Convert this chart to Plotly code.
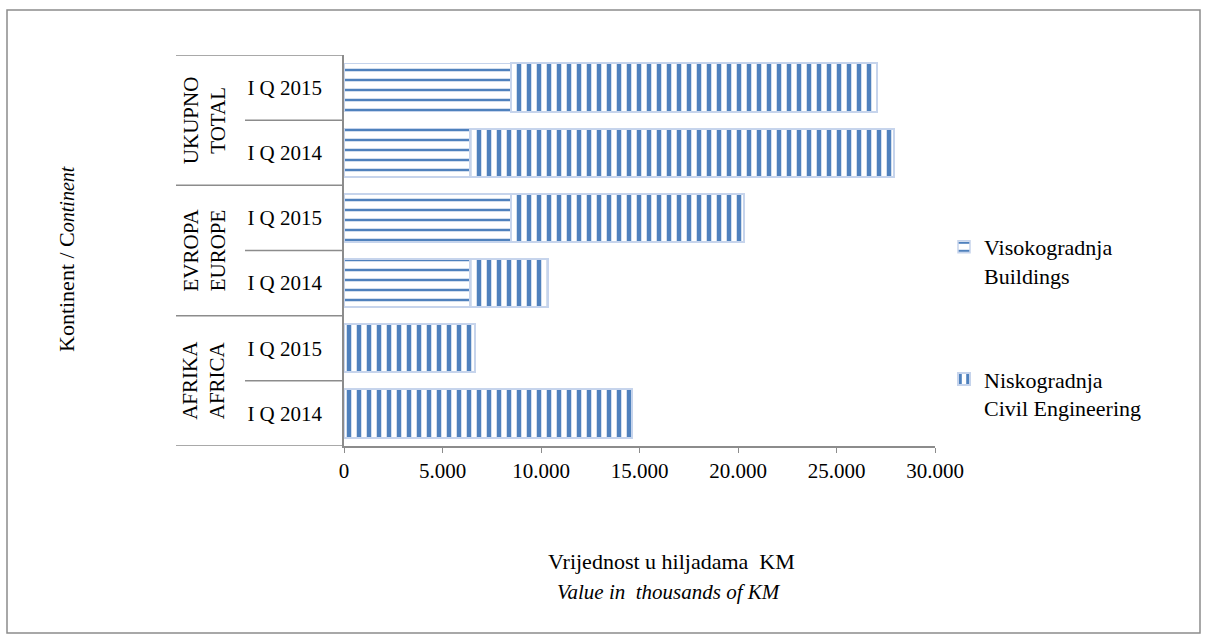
import plotly.graph_objects as go

# ---- data ----
groups = ["AFRIKA<br>AFRICA", "EVROPA<br>EUROPE", "UKUPNO<br>TOTAL"]
quarters = ["I Q 2014", "I Q 2015"]
categories = [g.split("<br>")[0] + " " + q for g in groups for q in quarters]
tick_labels = [q for g in groups for q in quarters]
buildings = [0, 0, 6410, 8480, 6410, 8480]          # Visokogradnja / Buildings
civil = [14630, 6650, 3960, 11840, 21510, 18560]    # Niskogradnja / Civil Engineering
x_ticks = [0, 5000, 10000, 15000, 20000, 25000, 30000]
series_names = ["Visokogradnja<br>Buildings", "Niskogradnja<br>Civil Engineering"]

FONT = "Liberation Serif"
BLUE = "#4F81BD"
EDGE = "#C6D4EC"

# pixel geometry of the plot area (for shape / annotation placement)
W, H = 1208, 635
L, R, T, B = 344, 935, 55, 446
pw, ph = R - L, B - T


def px(x):
    return (x - L) / pw


def py(y):
    return (B - y) / ph


fig = go.Figure()
fig.add_trace(go.Bar(
    y=categories, x=buildings, orientation="h", name=series_names[0],
    legendgroup="a",
    marker=dict(color="white", line=dict(color=EDGE, width=1.5),
                pattern=dict(shape="-", fgcolor=BLUE, bgcolor="white", fgopacity=1,
                             size=10, solidity=0.25, fillmode="replace")),
))
fig.add_trace(go.Bar(
    y=categories, x=civil, orientation="h", name=series_names[1],
    legendgroup="b",
    marker=dict(color="white", line=dict(color=EDGE, width=2),
                pattern=dict(shape="|", fgcolor=BLUE, bgcolor="white", fgopacity=1,
                             size=10, solidity=0.45, fillmode="replace")),
))

shapes = []
n = len(categories)
for i in range(len(groups) + 1):
    yv = i * len(quarters) - 0.5
    shapes.append(dict(type="line", xref="paper", yref="y", x0=px(176), x1=0,
                       y0=yv, y1=yv, line=dict(color="#8C8C8C", width=1.5)))
for i in range(len(groups)):
    yv = i * len(quarters) + 0.5
    shapes.append(dict(type="line", xref="paper", yref="y", x0=px(245), x1=0,
                       y0=yv, y1=yv, line=dict(color="#8C8C8C", width=1.5)))
shapes.append(dict(type="rect", xref="paper", yref="paper", x0=px(7), x1=px(1200),
                   y0=py(633), y1=py(10), line=dict(color="#8C8C8C", width=1.5)))

annotations = []
for i, g in enumerate(groups):
    annotations.append(dict(text=g, xref="paper", yref="y", x=px(204),
                            y=i * len(quarters) + 0.5, textangle=-90, showarrow=False,
                            xanchor="center", yanchor="middle",
                            font=dict(family=FONT, size=21, color="black")))
annotations.append(dict(text="Kontinent / C<i><span style='font-size:20px'>ontinent</span></i>",
                        xref="paper", yref="paper", x=px(66), y=py(259), textangle=-90,
                        xanchor="center", yanchor="middle",
                        showarrow=False, font=dict(family=FONT, size=22, color="black")))
annotations.append(dict(text="Vrijednost u hiljadama  KM", xref="paper", yref="paper",
                        x=px(671), y=py(561), showarrow=False,
                        xanchor="center", yanchor="middle",
                        font=dict(family=FONT, size=22, color="black")))
annotations.append(dict(text="<i>Value in  thousands of KM</i>", xref="paper", yref="paper",
                        x=px(669), y=py(592), showarrow=False,
                        xanchor="center", yanchor="middle",
                        font=dict(family=FONT, size=21, color="black")))

fig.update_layout(
    width=W, height=H,
    margin=dict(l=L, r=W - R, t=T, b=H - B, pad=0),
    paper_bgcolor="white", plot_bgcolor="white",
    barmode="stack", bargap=0.26,
    separators=",.",
    font=dict(family=FONT, size=21, color="black"),
    shapes=shapes, annotations=annotations,
    legend=dict(x=px(944), y=py(226), xanchor="left", yanchor="top",
                traceorder="grouped", tracegroupgap=72, valign="top",
                font=dict(family=FONT, size=22, color="black"),
                bgcolor="rgba(0,0,0,0)"),
    xaxis=dict(range=[x_ticks[0], x_ticks[-1]], tickvals=x_ticks, tickformat=",.0f",
               showgrid=False, zeroline=False, showline=True, linecolor="#8C8C8C",
               linewidth=1.5, ticks="outside", ticklen=5, tickcolor="#8C8C8C",
               tickfont=dict(family=FONT, size=21)),
    yaxis=dict(categoryorder="array", categoryarray=categories,
               tickvals=categories, ticktext=tick_labels, range=[-0.5, n - 0.5],
               showgrid=False, zeroline=False, showline=True, linecolor="#8C8C8C",
               linewidth=1.5, ticks="", ticklabelstandoff=16,
               tickfont=dict(family=FONT, size=21)),
)

fig.write_html("out.html", config={"displayModeBar": False},
               post_script="document.body.style.margin='0px';")
